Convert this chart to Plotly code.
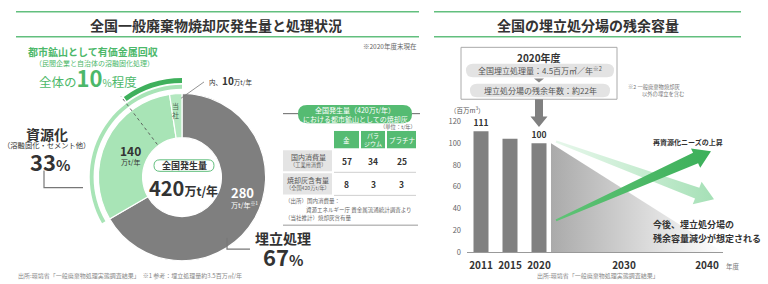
import math
import plotly.graph_objects as go

W, H = 768, 284
FONT = "Noto Sans CJK JP"
DARK = "#333333"
GREEN = "#4cb86a"
LINE_GREEN = "#62bf7e"
LIGHT_GREEN = "#a8e4b6"
GRAY = "#7f7f7f"

# ---------------- data ----------------
total_gen = 420          # 万t/年
landfill = 280           # 万t/年
recycle = 140            # 万t/年
ours = 10                # 万t/年 (当社)
urban_mine_pct = 10      # %
landfill_pct = 67
recycle_pct = 33

metals = ["金", "パラ<br>ジウム", "プラチナ"]
table_rows = ["国内消費量", "焼却灰含有量"]
table_row_subs = ["（工業用消費）", "（全国420万t/年）"]
table_values = [[57, 34, 25], [8, 3, 3]]

bar_years = ["2011", "2015", "2020"]
bar_values = [111, 104, 100]
bar_labels = ["111", "", "100"]
future_years = ["2030", "2040"]
y_ticks = [0, 20, 40, 60, 80, 100, 120]


# ---------------- helpers ----------------
def px(x):
    return x / W


def py(y):
    return 1 - y / H


shapes = []
annotations = []


def ann(x, y, text, size, color=DARK, xanchor="center", yanchor="middle", align="center"):
    annotations.append(dict(x=px(x), y=py(y), xref="paper", yref="paper", text=text,
                            showarrow=False, xanchor=xanchor, yanchor=yanchor, align=align,
                            font=dict(size=size, color=color, family=FONT)))


def line(x0, y0, x1, y1, color, width=1, dash=None):
    d = dict(type="line", xref="paper", yref="paper", x0=px(x0), y0=py(y0), x1=px(x1), y1=py(y1),
             line=dict(color=color, width=width))
    if dash:
        d["line"]["dash"] = dash
    shapes.append(d)


def poly(points, fill, lc=None, lw=0, closed=True):
    p = "M " + " L ".join(f"{px(x):.5f},{py(y):.5f}" for x, y in points)
    if closed:
        p += " Z"
    shapes.append(dict(type="path", xref="paper", yref="paper", path=p,
                       fillcolor=fill if closed else None,
                       line=dict(color=lc or "rgba(0,0,0,0)", width=lw)))


def rrect(x0, y0, x1, y1, r, fill, lc=None, lw=0):
    def P(x, y):
        return f"{px(x):.5f},{py(y):.5f}"
    p = (f"M {P(x0 + r, y0)} L {P(x1 - r, y0)} Q {P(x1, y0)} {P(x1, y0 + r)} "
         f"L {P(x1, y1 - r)} Q {P(x1, y1)} {P(x1 - r, y1)} L {P(x0 + r, y1)} "
         f"Q {P(x0, y1)} {P(x0, y1 - r)} L {P(x0, y0 + r)} Q {P(x0, y0)} {P(x0 + r, y0)} Z")
    shapes.append(dict(type="path", xref="paper", yref="paper", path=p, fillcolor=fill,
                       line=dict(color=lc or "rgba(0,0,0,0)", width=lw)))


def rect(x0, y0, x1, y1, fill, lc=None, lw=0):
    shapes.append(dict(type="rect", xref="paper", yref="paper", x0=px(x0), y0=py(y0),
                       x1=px(x1), y1=py(y1), fillcolor=fill,
                       line=dict(color=lc or "rgba(0,0,0,0)", width=lw)))


def pie_domain(cx, cy, r):
    return dict(x=[px(cx - r), px(cx + r)], y=[py(cy + r), py(cy - r)])


fig = go.Figure()

# ================= LEFT PANEL =================
line(16, 6, 419, 6, LINE_GREEN, 1.5)
line(16, 32, 419, 32, LINE_GREEN, 1.5)
ann(216, 20, "<b>全国一般廃棄物焼却灰発生量と処理状況</b>", 14)
ann(419, 42, "※2020年度末現在", 6.5, "#666", xanchor="right")

CX, CY, R = 182, 178, 87
# main donut
fig.add_trace(go.Pie(values=[landfill, recycle - ours, ours], labels=["埋立処理", "資源化", "当社"],
                     marker=dict(colors=[GRAY, LIGHT_GREEN, "#b4e8c0"], line=dict(color="white", width=1.2)),
                     hole=41 / 87, sort=False, direction="clockwise", rotation=0,
                     textinfo="none", hoverinfo="skip", showlegend=False,
                     domain=pie_domain(CX, CY, R)))
# light outer arc (resource recovery share)
fig.add_trace(go.Pie(values=[landfill, recycle], marker=dict(colors=["rgba(0,0,0,0)", LIGHT_GREEN], line=dict(width=0)),
                     hole=92 / 96, sort=False, direction="clockwise", rotation=0,
                     textinfo="none", hoverinfo="skip", showlegend=False,
                     domain=pie_domain(CX, CY, 96)))
# dark outer arc (urban mine ~10%)
fig.add_trace(go.Pie(values=[100 - urban_mine_pct, urban_mine_pct],
                     marker=dict(colors=["rgba(0,0,0,0)", "#3fb05c"], line=dict(width=0)),
                     hole=98 / 103, sort=False, direction="clockwise", rotation=0,
                     textinfo="none", hoverinfo="skip", showlegend=False,
                     domain=pie_domain(CX, CY, 103)))

# dotted boundary line for urban mining share
ang = math.radians(360 * urban_mine_pct / 100)
dxu, dyu = -math.sin(ang), -math.cos(ang)
line(CX + dxu * 42, CY + dyu * 42, CX + dxu * 104, CY + dyu * 104, "#555", 0.9, "dot")

# center label
rrect(154, 160, 214, 172, 6, "white", LINE_GREEN, 1)
ann(184, 166, "<b>全国発生量</b>", 9)
ann(183, 189, f"<b>{total_gen}</b><span style='font-size:12px'><b>万t/年</b></span>", 20)

ann(130, 150, f"<b>{recycle}</b>", 12)
ann(130, 162.5, "万t/年", 7)
ann(242, 194, f"<b>{landfill}</b>", 13, "white")
ann(244, 206.5, "万t/年<sup>※1</sup>", 7, "white")
ann(175, 109, "当<br>社", 7, "#4a6652")

line(181, 96, 204, 79, "#777", 0.8)
ann(207, 78, f"内、<b><span style='font-size:10px'>{ours}</span></b>万t/年", 6.5, xanchor="left")

ann(93, 47, "<b>都市鉱山として有価金属回収</b>", 10, GREEN)
ann(94, 59, "（民間企業と自治体の溶融固化処理）", 7, GREEN)
ann(88, 74, f"全体の<b><span style='font-size:22px'>{urban_mine_pct}</span></b><span style='font-size:10px'>%</span>程度",
    12.5, GREEN)

ann(47, 133, "<b>資源化</b>", 14)
ann(46, 145, "（溶融固化・セメント他）", 7.3)
ann(50, 161, f"<b>{recycle_pct}</b><span style='font-size:15px'><b>%</b></span>", 22)
poly([(44, 171), (44, 189), (83, 189)], None, "#777", 1.2, closed=False)

ann(283, 241, "<b>埋立処理</b>", 14)
ann(283, 260, f"<b>{landfill_pct}</b><span style='font-size:15px'><b>%</b></span>", 22)
poly([(227, 241), (227, 253), (250, 253)], None, "#777", 1.2, closed=False)

ann(16, 280, "出所:環境省「一般廃棄物処理実態調査結果」　※1 参考：埋立処理量約3.5百万㎥/年", 6, "#888",
    xanchor="left")

# ---- table ----
line(283, 112, 298, 112, "#666", 1)
line(412, 112, 420, 112, "#666", 1)
rrect(298, 103, 412, 122, 9, "#55bb72")
ann(355, 108, "全国発生量（420万t/年）", 7, "white")
ann(355, 117.5, "における都市鉱山としての焼却灰", 7, "white")
ann(418, 126, "（単位：t/年）", 5.3, "#666", xanchor="right")

col_x = [(334, 359), (361, 385), (387, 416)]
row_y = [(150, 172), (174, 196)]
for (x0, x1), m in zip(col_x, metals):
    rect(x0, 130, x1, 148, "#55bb72")
    ann((x0 + x1) / 2, 139, m, 6 if "<br>" in m else 6.5, "white")
for (y0, y1), lab, sub, vals in zip(row_y, table_rows, table_row_subs, table_values):
    rect(283, y0, 332, y1, "#e4e4e4")
    ann(308, (y0 + y1) / 2 - 4, lab, 7, "#555")
    ann(308, (y0 + y1) / 2 + 4.5, sub, 5.2, "#666")
    for (x0, x1), v in zip(col_x, vals):
        ann((x0 + x1) / 2, (y0 + y1) / 2, f"<b>{v}</b>", 8.5)
    line(334, y1 + 1, 416, y1 + 1, "#cfcfcf", 1)
ann(283, 203, "（出所）国内消費量：", 5.5, "#666", xanchor="left")
ann(304, 212, "資源エネルギー庁 貴金属流通統計調査より", 5.5, "#666", xanchor="left")
ann(283, 221, "（当社推計）焼却灰含有量", 5.5, "#666", xanchor="left")
line(283, 228, 418, 228, "#999", 1)

# ================= RIGHT PANEL =================
line(434, 6, 741, 6, LINE_GREEN, 1.5)
line(434, 32, 741, 32, LINE_GREEN, 1.5)
ann(588, 20, "<b>全国の埋立処分場の残余容量</b>", 14)

rect(461, 43, 617, 97, "white", "#aaaaaa", 1)
ann(539, 54, "<b>2020年度</b>", 10)
rrect(466, 60, 614, 74, 7, "#e3e3e3")
ann(540, 67, "全国埋立処理量：4.5百万㎥／年<sup>※2</sup>", 8, "#555")
poly([(534, 75.5), (544, 75.5), (539, 79.5)], "#888")
rrect(470, 81, 610, 95, 7, "#e3e3e3")
ann(540, 88, "埋立処分場の残余年数：約22年", 8, "#555")
ann(626, 84, "※2 一般廃棄物焼却灰", 5.3, "#777", xanchor="left")
ann(640, 92, "以外の埋立を含む", 5.3, "#777", xanchor="left")

# bar chart axes geometry (pixels)
AX0, AX1 = 467, 723
X_FIRST, STEP = 481, 29
Y0PX, Y120PX = 256, 120
future_px = [624, 707]


def xp(i):
    return X_FIRST + STEP * i


def yp(v):
    return Y0PX - v * (Y0PX - Y120PX) / 120


# down arrow from box to 2020 bar
ax = xp(2)
poly([(ax - 4, 97), (ax + 4, 97), (ax + 4, 115), (ax + 8.5, 115), (ax, 126), (ax - 8.5, 115), (ax - 4, 115)], "#808080")

bar_x = list(range(len(bar_years)))
fig.add_trace(go.Bar(x=bar_x, y=bar_values, width=15 / STEP, marker=dict(color="#808080", line=dict(width=0)),
                     text=[f"<b>{t}</b>" if t else "" for t in bar_labels], textposition="outside",
                     textfont=dict(size=8.5, color=DARK, family=FONT), constraintext="none",
                     cliponaxis=False, hoverinfo="skip", showlegend=False, xaxis="x2", yaxis="y2"))

tick_pos = bar_x + [(p - X_FIRST) / STEP for p in future_px]
tick_text = [f"<b>{t}</b>" for t in bar_years + future_years]

# gradient triangle (decline) + arrows on a pixel overlay axis
tri_x0 = xp(2) + 7.5 + 4.5
fig.add_trace(go.Scatter(x=[tri_x0, tri_x0, AX1, tri_x0], y=[yp(bar_values[-1]), Y0PX, Y0PX, yp(bar_values[-1])],
                         fill="toself", mode="none", hoverinfo="skip", showlegend=False,
                         fillgradient=dict(type="horizontal",
                                           colorscale=[[0, "rgb(170,170,170)"], [0.55, "rgb(218,218,218)"],
                                                       [1, "rgb(255,255,255)"]]),
                         xaxis="x3", yaxis="y3"))


def arrow_pts(T, P, w_tail, w_base, head_len, head_half):
    dx, dy = P[0] - T[0], P[1] - T[1]
    L = math.hypot(dx, dy)
    ux, uy = dx / L, dy / L
    nx, ny = -uy, ux
    Bx, By = P[0] - ux * head_len, P[1] - uy * head_len
    pts = [(T[0] + nx * w_tail, T[1] + ny * w_tail), (Bx + nx * w_base, By + ny * w_base),
           (Bx + nx * head_half, By + ny * head_half), P,
           (Bx - nx * head_half, By - ny * head_half), (Bx - nx * w_base, By - ny * w_base),
           (T[0] - nx * w_tail, T[1] - ny * w_tail), (T[0] + nx * w_tail, T[1] + ny * w_tail)]
    return [p[0] for p in pts], [p[1] for p in pts]


lx, ly = arrow_pts((556, 141), (714, 201), 1.2, 6, 18, 12.5)
fig.add_trace(go.Scatter(x=lx, y=ly, fill="toself", mode="none", hoverinfo="skip", showlegend=False,
                         fillgradient=dict(type="horizontal",
                                           colorscale=[[0, "rgba(185,232,197,0.35)"], [1, "rgba(165,224,182,1)"]]),
                         xaxis="x3", yaxis="y3"))
dx_, dy_ = arrow_pts((556, 223), (711, 151), 1.0, 6, 17, 11)
fig.add_trace(go.Scatter(x=dx_, y=dy_, fill="toself", mode="none", hoverinfo="skip", showlegend=False,
                         fillgradient=dict(type="horizontal",
                                           colorscale=[[0, "rgb(95,195,118)"], [1, "rgb(60,176,90)"]]),
                         xaxis="x3", yaxis="y3"))

ann(688, 141, "<b>再資源化ニーズの上昇</b>", 7)
ann(651, 227, "<b>今後、埋立処分場の</b>", 9, xanchor="left")
ann(651, 242, "<b>残余容量減少が想定される</b>", 9, xanchor="left")
ann(467, 108, "（百万m<sup>3</sup>）", 6.5, "#555")
ann(733, 270, "年度", 6.5, "#777")
ann(598, 280, "出所:環境省「一般廃棄物処理実態調査結果」", 6, "#888")

fig.update_layout(
    width=W, height=H, margin=dict(l=0, r=0, t=0, b=0),
    paper_bgcolor="white", plot_bgcolor="rgba(0,0,0,0)",
    font=dict(family=FONT, color=DARK),
    showlegend=False,
    shapes=shapes, annotations=annotations,
    xaxis2=dict(domain=[px(AX0), px(AX1)], range=[(AX0 - X_FIRST) / STEP, (AX1 - X_FIRST) / STEP],
                anchor="y2", showgrid=False, zeroline=False, showline=True, linecolor="#999", linewidth=1,
                tickvals=tick_pos, ticktext=tick_text, ticks="", ticklabelstandoff=4,
                tickfont=dict(size=10, color=DARK, family=FONT), fixedrange=True),
    yaxis2=dict(domain=[py(Y0PX), py(Y120PX)], range=[0, 120], anchor="x2", showgrid=False, zeroline=False,
                showline=False, tickvals=y_ticks, ticks="", ticklabelstandoff=5,
                tickfont=dict(size=7.5, color="#666", family=FONT), fixedrange=True),
    xaxis3=dict(domain=[0, 1], range=[0, W], anchor="y3", visible=False, fixedrange=True),
    yaxis3=dict(domain=[0, 1], range=[H, 0], anchor="x3", visible=False, fixedrange=True),
)

fig.write_html("out.html")
